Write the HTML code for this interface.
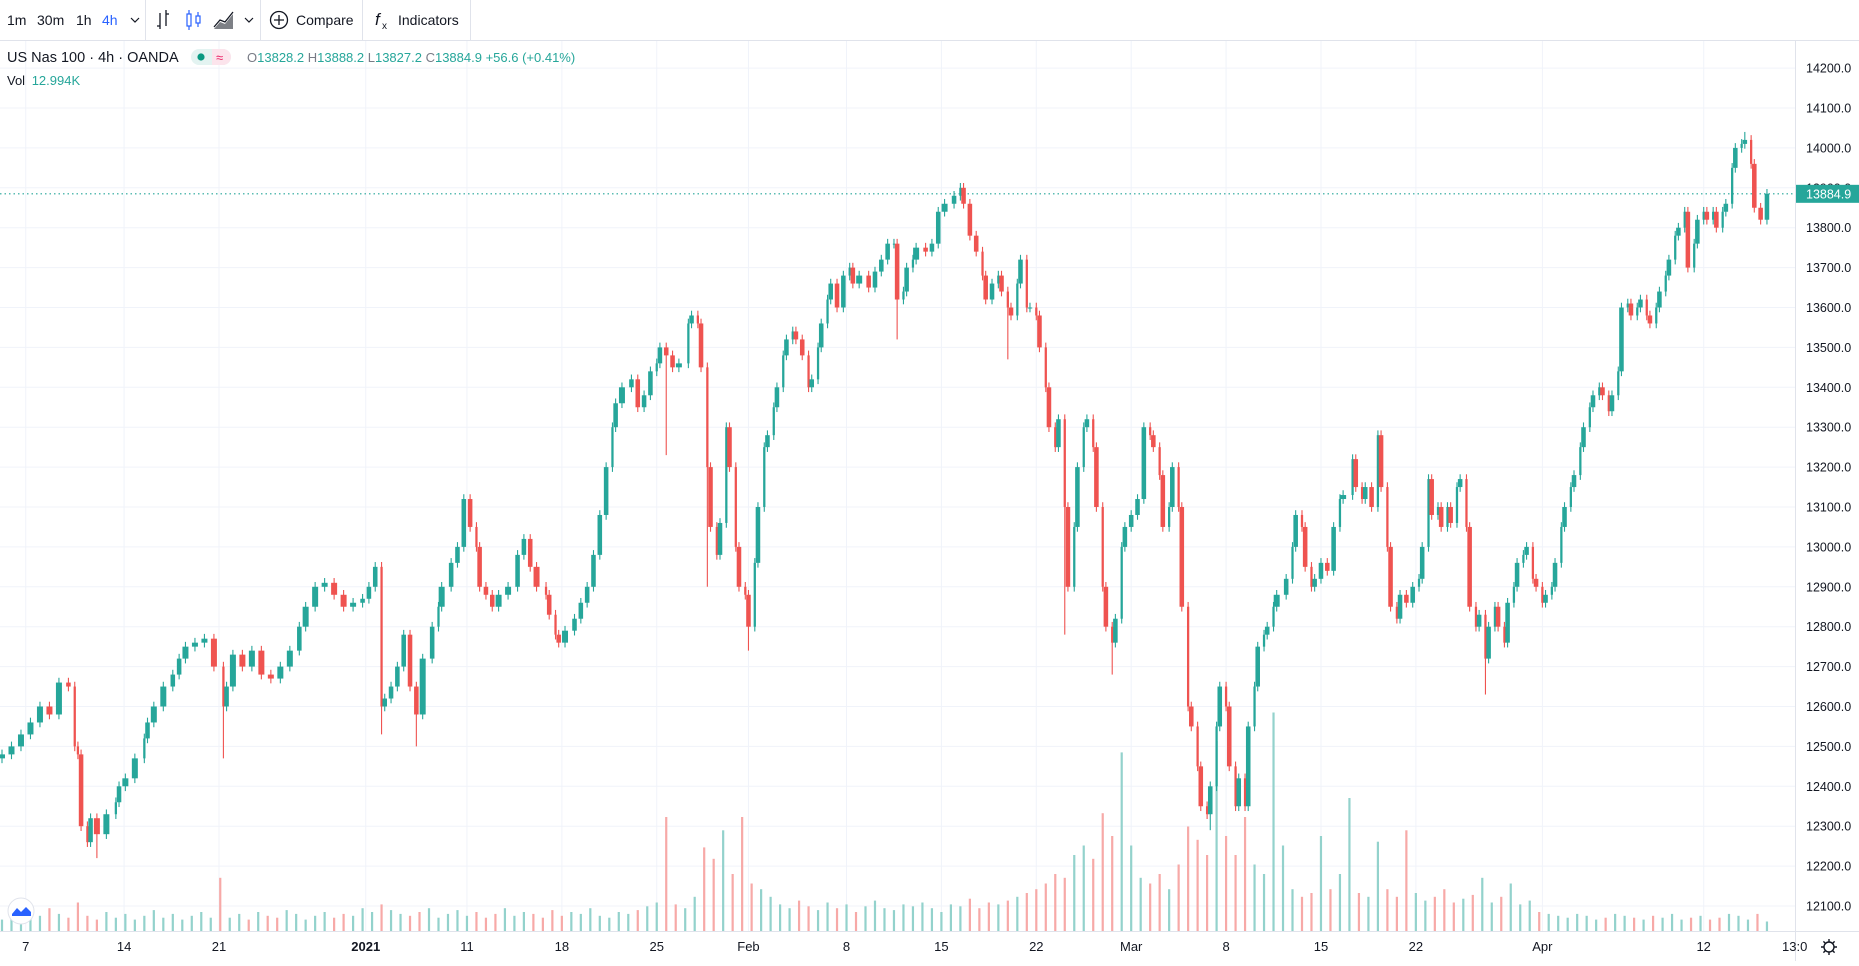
<!DOCTYPE html>
<html><head><meta charset="utf-8">
<style>
html,body{margin:0;padding:0;background:#fff;}
body{width:1859px;height:961px;overflow:hidden;font-family:"Liberation Sans",sans-serif;}
svg text{font-family:"Liberation Sans",sans-serif;}
</style></head>
<body>
<svg id="chart" width="1859" height="961" viewBox="0 0 1859 961" xmlns="http://www.w3.org/2000/svg">
  <rect x="0" y="0" width="1859" height="961" fill="#ffffff"/>
  <g id="grid"></g>
  <g id="volume"></g>
  <line id="lastLine" x1="0" x2="1795" stroke="#26a69a" stroke-width="1.2" stroke-dasharray="1.5,3"/>
  <g id="candles"></g>
  <!-- toolbar -->
  <g>
    <rect x="0" y="0" width="1859" height="40" fill="#fff"/>
    <line x1="0" y1="40.5" x2="1859" y2="40.5" stroke="#e0e3eb"/>
    <text x="7" y="25" font-size="14" fill="#131722">1m</text>
    <text x="37" y="25" font-size="14" fill="#131722">30m</text>
    <text x="76" y="25" font-size="14" fill="#131722">1h</text>
    <text x="102" y="25" font-size="14" fill="#2962ff">4h</text>
    <path d="M131 18 l4 4 l4 -4" stroke="#131722" fill="none" stroke-width="1.2"/>
    <line x1="145.5" y1="0" x2="145.5" y2="40" stroke="#e0e3eb"/>
    <g stroke="#131722" stroke-width="1.3" fill="none">
      <path d="M160 13 v16 M157 26 h3 M166 10 v16 M166 14 h3"/>
    </g>
    <g stroke="#2962ff" stroke-width="1.2" fill="none">
      <rect x="187" y="14" width="4" height="12"/><path d="M189 10 v4 M189 26 v4"/>
      <rect x="196" y="16" width="4" height="7"/><path d="M198 12 v4 M198 23 v4"/>
    </g>
    <g>
      <path d="M214 29 L220 22 L225 24 L233 14 L233 29 Z" fill="#131722" opacity="0.55"/>
      <path d="M214 27 L220 20 L225 22 L233 12" stroke="#131722" fill="none" stroke-width="1.3"/>
    </g>
    <path d="M245 18 l4 4 l4 -4" stroke="#131722" fill="none" stroke-width="1.2"/>
    <line x1="260.5" y1="0" x2="260.5" y2="40" stroke="#e0e3eb"/>
    <g>
      <circle cx="279" cy="20" r="8.5" stroke="#131722" fill="none" stroke-width="1.3"/>
      <path d="M279 15 v10 M274 20 h10" stroke="#131722" stroke-width="1.3"/>
      <text x="296" y="25" font-size="14" fill="#131722">Compare</text>
    </g>
    <line x1="362.5" y1="0" x2="362.5" y2="40" stroke="#e0e3eb"/>
    <g>
      <text x="375" y="25" font-size="17" font-style="italic" fill="#131722" font-family="Liberation Serif,serif">f</text>
      <text x="382" y="29" font-size="10" fill="#131722">x</text>
      <text x="398" y="25" font-size="14" fill="#131722">Indicators</text>
    </g>
    <line x1="470.5" y1="0" x2="470.5" y2="40" stroke="#e0e3eb"/>
  </g>
  <!-- legend -->
  <g>
    <text x="7" y="62" font-size="14.5" fill="#131722">US Nas 100 · 4h · OANDA</text>
    <rect x="191" y="49" width="40" height="16" rx="8" fill="#e3f3f1"/>
    <rect x="212" y="49" width="19" height="16" rx="8" fill="#fce4ec"/>
    <rect x="212" y="49" width="8" height="16" fill="#fce4ec"/>
    <circle cx="201" cy="57" r="3.6" fill="#089981"/>
    <text x="216" y="62" font-size="13" fill="#e91e63">≈</text>
    <text x="247" y="62" font-size="13" fill="#26a69a"><tspan fill="#787b86">O</tspan>13828.2 <tspan fill="#787b86">H</tspan>13888.2 <tspan fill="#787b86">L</tspan>13827.2 <tspan fill="#787b86">C</tspan>13884.9 +56.6 (+0.41%)</text>
    <text x="7" y="85" font-size="13" fill="#131722">Vol <tspan fill="#26a69a" dx="3">12.994K</tspan></text>
  </g>
  <!-- axes -->
  <rect x="1795" y="41" width="64" height="920" fill="#fff"/>
  <line x1="1795.5" y1="41" x2="1795.5" y2="961" stroke="#e0e3eb"/>
  <g id="yaxis"></g>
  <rect x="0" y="931" width="1795" height="30" fill="#fff"/>
  <line x1="0" y1="931.5" x2="1859" y2="931.5" stroke="#e0e3eb"/>
  <g id="xaxis"></g>
  <g id="lastLabel"></g>
  <g>
    <circle cx="21" cy="911" r="13" fill="#fff" stroke="#e0e3eb"/>
    <path d="M12 914 l5 -6 l4 4 l5 -5 l5 5 v4 h-19 Z" fill="#2962ff"/>
  </g>
  <g transform="translate(1829,947)">
    <circle r="5" fill="none" stroke="#131722" stroke-width="1.4"/>
    <path d="M0 -8 v3 M0 5 v3 M-8 0 h3 M5 0 h3 M-5.6 -5.6 l2 2 M3.6 3.6 l2 2 M-5.6 5.6 l2 -2 M3.6 -3.6 l2 -2" stroke="#131722" stroke-width="1.4"/>
  </g>
</svg>
<script>
// ---- data ----
const barT = [0,3,6,9,12,15,18,21,23,24,25,27,28,30,33,36,37,39,42,45,46,48,51,54,56,58,61,64,67,70,71,73,76,79,82,85,88,91,94,96,99,102,105,108,111,114,116,118,120,121,123,125,127,129,131,133,136,138,139,142,144,146,148,150,151,153,155,157,160,163,165,167,169,172,173,175,176,178,181,183,185,187,189,191,193,194,196,199,201,203,205,207,208,210,212,214,217,218,220,221,223,224,226,227,229,230,232,233,235,236,238,239,241,242,244,245,247,248,250,251,253,255,256,258,259,261,262,264,266,268,269,271,274,276,278,280,282,283,285,286,288,289,292,294,296,298,301,303,304,306,308,310,311,313,315,316,318,319,321,322,324,325,327,328,330,331,333,334,336,337,339,340,342,343,345,346,348,349,351,352,354,355,357,359,361,363,364,366,367,369,370,372,373,375,376,378,379,381,382,384,385,387,388,390,391,393,394,396,397,399,400,402,403,406,408,409,411,412,414,415,417,419,421,423,424,427,428,430,431,433,435,436,438,439,441,442,444,446,448,449,451,452,454,455,457,458,460,461,463,464,466,467,469,470,472,473,475,476,478,479,481,482,484,485,487,488,490,491,493,494,496,497,499,500,502,503,505,506,508,509,511,512,514,515,517,518,520,521,523,524,526,527,529,530,532,533,535,536,538,539,541,542,544,545,547,548,550,551,553,554,556,558];
const closes = [12480,12500,12530,12560,12600,12580,12660,12650,12500,12480,12300,12260,12320,12280,12330,12360,12400,12420,12470,12520,12560,12600,12650,12680,12720,12750,12760,12770,12700,12600,12650,12730,12700,12740,12680,12670,12700,12740,12800,12850,12900,12910,12880,12850,12860,12870,12900,12950,12600,12620,12650,12700,12780,12650,12580,12720,12800,12850,12900,12960,13000,13120,13050,13000,12900,12880,12850,12880,12900,12980,13020,12950,12900,12880,12830,12780,12760,12790,12820,12860,12900,12980,13080,13200,13300,13360,13400,13420,13350,13380,13440,13460,13500,13480,13450,13460,13560,13580,13560,13450,13200,13050,12980,13060,13300,13200,13000,12900,12880,12800,12960,13100,13250,13280,13350,13400,13480,13520,13540,13520,13480,13400,13420,13500,13560,13620,13660,13600,13680,13700,13660,13680,13650,13690,13720,13760,13760,13620,13640,13700,13720,13750,13740,13760,13840,13860,13880,13900,13860,13780,13740,13680,13620,13660,13680,13640,13600,13580,13660,13720,13600,13600,13580,13500,13400,13300,13250,13320,13100,12900,13050,13200,13300,13320,13250,13100,12900,12800,12760,12820,13000,13050,13080,13120,13300,13280,13250,13180,13050,13100,13200,13100,12850,12600,12550,12450,12350,12330,12400,12550,12650,12600,12450,12350,12420,12350,12550,12650,12750,12780,12800,12850,12880,12920,13000,13080,13050,12950,12900,12920,12960,12940,13050,13120,13130,13220,13150,13120,13150,13100,13280,13150,13000,12850,12820,12880,12860,12900,12920,13000,13170,13080,13100,13050,13100,13060,13150,13170,13050,12850,12800,12830,12720,12800,12850,12800,12760,12860,12900,12960,12980,13000,12920,12900,12860,12880,12900,12960,13050,13100,13150,13180,13250,13300,13350,13380,13400,13380,13340,13380,13440,13600,13610,13580,13600,13620,13580,13560,13600,13640,13680,13720,13780,13800,13840,13700,13760,13820,13840,13820,13840,13800,13840,13860,13950,14000,14010,14020,13960,13850,13820,13885];
const firstOpen = 12470;
const spikeT = [30,70,120,131,210,223,236,283,318,336,351,382,469,551];
const spikeHi = [0,0,0,0,0,0,0,0,0,0,0,0,0,14040];
const spikeLo = [12220,12470,12530,12500,13230,12900,12740,13520,13470,12780,12680,12290,12630,0];
const volume = [6,9,7,10,8,12,9,7,15,8,6,10,7,9,6,8,11,7,9,6,8,10,7,28,7,9,6,10,8,7,11,9,6,8,10,7,9,8,12,10,14,11,9,8,10,12,7,9,11,8,10,7,9,12,8,10,9,7,11,8,10,9,12,8,7,10,9,11,13,15,60,14,12,18,44,38,53,30,60,25,22,18,14,12,16,13,11,15,12,14,10,13,16,12,11,14,13,15,12,10,14,13,17,12,15,14,16,18,20,22,25,30,28,40,45,38,62,50,94,45,28,25,30,22,35,55,48,40,100,50,40,60,35,30,115,45,22,18,20,50,22,30,70,20,18,47,22,18,53,20,16,18,22,15,17,19,28,15,18,25,14,16,10,9,8,7,9,8,6,7,9,8,7,6,8,7,9,6,7,8,6,7,9,8,6,9,5];
const volStep = 3;
const priceTicks = [12100,12200,12300,12400,12500,12600,12700,12800,12900,13000,13100,13200,13300,13400,13500,13600,13700,13800,13900,14000,14100,14200];
const timeLabels = ["7","14","21","2021","11","18","25","Feb","8","15","22","Mar","8","15","22","Apr","12"];
const timeTickT = [7.5,38.6,68.6,115,147,177,207,236,267,297,327,357,387,417,447,487,538];
const lastPrice = 13884.9;

// ---- scales ----
const NS = "http://www.w3.org/2000/svg";
const barPx = 3.163;
function xs(t){ return 2 + t*barPx; }
function ys(p){ return 906 - (p-12100)*0.399; }
function volY(v){ return 931 - v*1.9; }
function mk(tag, attrs, parent){ const e=document.createElementNS(NS,tag); for(const k in attrs) e.setAttribute(k,attrs[k]); parent.appendChild(e); return e; }
const UP="#26a69a", DN="#ef5350";

// grid
const grid=document.getElementById('grid');
priceTicks.forEach(p=>{
  const l=mk('line',{x1:0,x2:1795,y1:ys(p),y2:ys(p),stroke:'#f0f3fa','stroke-width':1},grid);
  
  
});
timeTickT.forEach(t=>{
  const l=mk('line',{x1:xs(t),x2:xs(t),y1:41,y2:931,stroke:'#f0f3fa','stroke-width':1},grid);
  
  
});

// candles
const cg=document.getElementById('candles');
const n=Math.min(barT.length,closes.length);
const dirs=[];
for(let i=0;i<n;i++){
  const o = i===0?firstOpen:closes[i-1];
  const c = closes[i];
  const up = c>=o;
  dirs.push({t:barT[i],up:up});
  let hi=Math.max(o,c)+12, lo=Math.min(o,c)-12;
  const si=spikeT.indexOf(barT[i]);
  if(si>=0){ if(spikeHi[si]) hi=spikeHi[si]; if(spikeLo[si]) lo=spikeLo[si]; }
  const gap = i<n-1 ? barT[i+1]-barT[i] : 2;
  const w = Math.max(1.6, Math.min(gap*barPx*0.72, 6));
  const cx = xs(barT[i]);
  const col = up?UP:DN;
  const g=mk('g',{},cg);
  
  
  mk('line',{x1:cx,x2:cx,y1:ys(hi),y2:ys(lo),stroke:col,'stroke-width':1.1},g);
  const y1=ys(Math.max(o,c)), y2=ys(Math.min(o,c));
  mk('rect',{x:cx-w/2,y:y1,width:w,height:Math.max(1,y2-y1),fill:col},g);
}

// volume
const vg=document.getElementById('volume');
volume.forEach((v,i)=>{
  const t=i*volStep;
  let up=true;
  for(const d of dirs){ if(d.t<=t) up=d.up; else break; }
  const r=mk('rect',{x:xs(t)-1.1,y:volY(v),width:2.2,height:931-volY(v),fill:up?'#93d2cc':'#f7a9a7'},vg);
  
  
});

// last price
const ly=ys(lastPrice);
const ll=document.getElementById('lastLine');
ll.setAttribute('y1',ly); ll.setAttribute('y2',ly);

// y axis
const ya=document.getElementById('yaxis');
priceTicks.forEach(p=>{
  const tx=mk('text',{x:1806,y:ys(p)+4.5,'font-size':12.5,fill:'#131722'},ya);
  tx.textContent=p.toFixed(1);
  
  
});
const lg=document.getElementById('lastLabel');
const lr=mk('rect',{x:1796,y:ly-9,width:63,height:18,fill:'#26a69a'},lg);


const lt=mk('text',{x:1806,y:ly+4.5,'font-size':12.5,fill:'#fff'},lg);
lt.textContent=lastPrice.toFixed(1);



// x axis
const xa=document.getElementById('xaxis');
timeLabels.forEach((s,i)=>{
  const tx=mk('text',{x:xs(timeTickT[i]),y:951,'font-size':13,fill:'#131722','text-anchor':'middle','font-weight':s==='2021'?'bold':'normal'},xa);
  tx.textContent=s;
  
  
});
const ct=mk('text',{x:1782,y:951,'font-size':13,fill:'#131722'},xa);
ct.textContent='13:0';


</script>
</body></html>
